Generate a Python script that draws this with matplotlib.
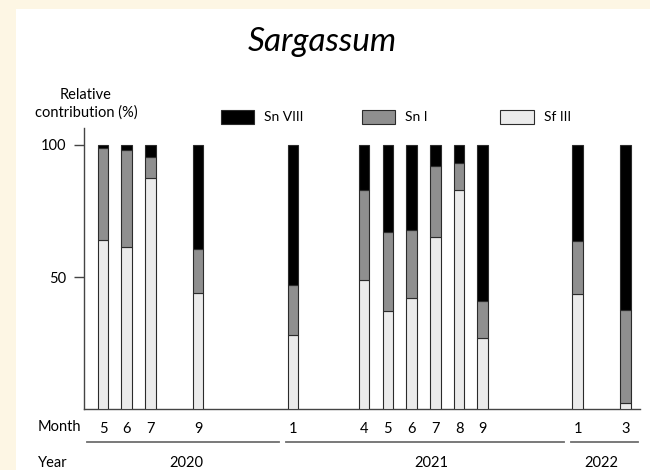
import matplotlib
matplotlib.use("Agg")
import matplotlib.pyplot as plt
import matplotlib.transforms as mtrans
from matplotlib.patches import Rectangle
from matplotlib.lines import Line2D
import numpy as np

# ---------------- data ----------------
years = [2020, 2020, 2020, 2020, 2021, 2021, 2021, 2021, 2021, 2021, 2021, 2022, 2022]
months = [5, 6, 7, 9, 1, 4, 5, 6, 7, 8, 9, 1, 3]
sf_iii = [64, 61.5, 87.5, 44, 28, 49, 37, 42, 65, 83, 27, 43.5, 2.5]
sn_i = [35, 36.5, 8, 16.5, 19, 34, 30, 26, 27, 10, 14, 20, 35]
sn_viii = [1, 2, 4.5, 39.5, 53, 17, 33, 32, 8, 7, 59, 36.5, 62.5]
series_names = ["Sn VIII", "Sn I", "Sf III"]
year_labels = ["2020", "2021", "2022"]
y_ticks = [50, 100]
title = "Sargassum"

# ---------------- style ----------------
plt.rcParams['font.family'] = ['Lato', 'DejaVu Sans']
W, H = 650, 470
BG = '#fdf6e4'
C_SF, C_SNI, C_SNVIII = '#ebebeb', '#8f8f8f', '#000000'
EDGE = '#2b2b2b'
AXC = '#444444'
FS = 10.5

def fx(px):
    return px / W

def fy(py):
    return 1 - py / H

fig = plt.figure(figsize=(W / 100, H / 100), dpi=100, facecolor=BG)
fig.patches.append(Rectangle((fx(16), 0), 1 - fx(16), fy(9), transform=fig.transFigure,
                             facecolor='white', edgecolor='none', zorder=-10))

ax = fig.add_axes([fx(84), fy(409.3), fx(640) - fx(84), fy(128) - fy(409.3)])
ax.set_facecolor('none')
ax.set_zorder(5)

start_year, start_month = years[0], months[0]
x = np.array([(y - start_year) * 12 + m - start_month for y, m in zip(years, months)], float)
sf = np.array(sf_iii)
s1 = np.array(sn_i)
s8 = np.array(sn_viii)

bw = 0.45
ax.bar(x, sf, bw, color=C_SF, edgecolor=EDGE, linewidth=0.8, zorder=3)
ax.bar(x, s1, bw, bottom=sf, color=C_SNI, edgecolor=EDGE, linewidth=0.8, zorder=3)
ax.bar(x, s8, bw, bottom=sf + s1, color=C_SNVIII, edgecolor=EDGE, linewidth=0.8, zorder=3)

ax.set_xlim(-0.8, 22.62)
ax.set_ylim(0, 106.4)
for s in ['top', 'right']:
    ax.spines[s].set_visible(False)
for s in ['left', 'bottom']:
    ax.spines[s].set_color(AXC)
    ax.spines[s].set_linewidth(1.0)

ax.set_yticks(y_ticks)
ax.set_yticklabels([str(v) for v in y_ticks])
ax.tick_params(axis='y', length=7, width=1, color=AXC, pad=5.5, labelsize=FS)
ax.set_xticks(x)
ax.set_xticklabels([str(m) for m in months])
ax.tick_params(axis='x', length=0, pad=9, labelsize=FS)

# row labels
fig.text(fx(38), fy(427), "Month", ha='left', va='center', fontsize=FS)
fig.text(fx(38), fy(463), "Year", ha='left', va='center', fontsize=FS)

# year lines and labels
trans = mtrans.blended_transform_factory(ax.transData, fig.transFigure)
uniq_years = sorted(set(years))
bounds = [(yy - start_year) * 12 + 1 - start_month - 0.43 for yy in uniq_years[1:]]
gap = 0.14
seg_starts = [-0.69] + [b + gap for b in bounds]
seg_ends = [b - gap for b in bounds] + [22.55]
for a, b in zip(seg_starts, seg_ends):
    fig.add_artist(Line2D([a, b], [fy(441.7), fy(441.7)], transform=trans,
                          color='#6e6e6e', linewidth=1.3))
year_label_x = [3.5, 13.85, 20.98]
for lab, xx in zip(year_labels, year_label_x):
    fig.text(xx, fy(463), lab, transform=trans, ha='center', va='center', fontsize=FS)

# y label
fig.text(fx(86), fy(95), "Relative", ha='center', va='center', fontsize=FS)
fig.text(fx(86), fy(113), "contribution (%)", ha='center', va='center', fontsize=FS)

# legend
leg_colors = [C_SNVIII, C_SNI, C_SF]
leg_box_x = [220.7, 361.7, 500.0]
for name, col, bx in zip(series_names, leg_colors, leg_box_x):
    fig.patches.append(Rectangle((fx(bx), fy(124)), fx(33.5), fy(110) - fy(124),
                                 transform=fig.transFigure, facecolor=col,
                                 edgecolor=EDGE, linewidth=0.8))
    fig.text(fx(bx + 43.5), fy(117), name, ha='left', va='center', fontsize=FS - 0.5)

# title
fig.text(fx(322.5), fy(51), title, ha='center', va='baseline', fontsize=24, fontstyle='italic')

fig.savefig('out.png', dpi=100, facecolor=BG)
